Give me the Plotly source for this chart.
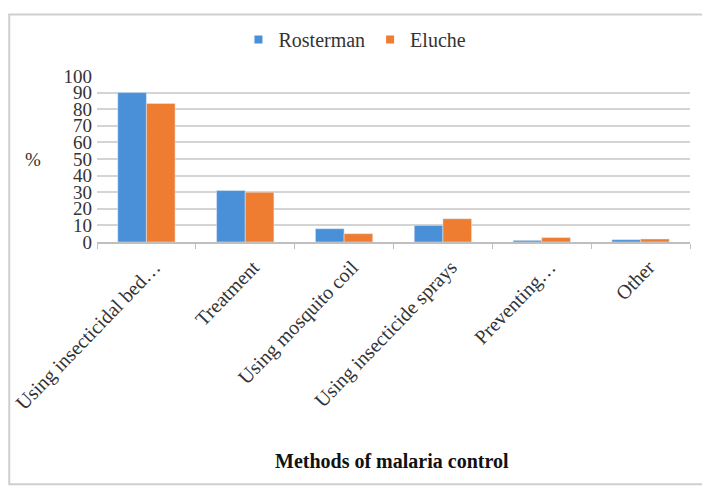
import plotly.graph_objects as go

categories = ["Using insecticidal bed…", "Treatment", "Using mosquito coil",
              "Using insecticide sprays", "Preventing…", "Other"]
rosterman = [90, 31, 8, 10, 1, 1.4]
eluche = [83.5, 30, 5, 14, 2.7, 1.8]
y_ticks = list(range(0, 101, 10))

series_names = ["Rosterman", "Eluche"]
series_colors = ["#4a90d9", "#ee7d31"]

font_family = "Liberation Serif, Times New Roman, serif"

fig = go.Figure()
for name, vals, col in zip(series_names, [rosterman, eluche], series_colors):
    fig.add_trace(go.Bar(name=name, x=categories, y=vals, marker_color=col,
                         showlegend=False))
    # legend proxy with a small square symbol
    fig.add_trace(go.Scatter(name=name, x=[None], y=[None], mode="markers",
                             marker=dict(symbol="square", size=8, color=col),
                             showlegend=True))

fig.update_layout(
    width=702, height=485,
    margin=dict(l=89, r=20, t=61, b=251),
    paper_bgcolor="white", plot_bgcolor="white",
    barmode="group", bargap=0.42, bargroupgap=0,
    font=dict(family=font_family, color="#333333"),
    showlegend=True,
    legend=dict(orientation="h", x=0.435, xanchor="center", y=1.22, yanchor="middle",
                font=dict(size=20, family=font_family, color="#333333"),
                itemwidth=30, traceorder="normal", tracegroupgap=0),
    xaxis=dict(tickangle=-46, tickfont=dict(size=20, family=font_family, color="#333333"),
               showline=True, linecolor="#bfbfbf", linewidth=1.5,
               ticks="outside", ticklen=5, tickcolor="#bfbfbf", tickson="boundaries",
               ticklabelshift=8, ticklabelstandoff=4,
               showgrid=False, automargin=False),
    yaxis=dict(range=[0, 100], tickvals=y_ticks, ticktext=[str(v) for v in y_ticks],
               tickfont=dict(size=19, family=font_family, color="#333333"),
               showgrid=True, gridcolor="#d4d4d4", gridwidth=2,
               zeroline=False, showline=False, ticks="", ticklabelstandoff=4,
               automargin=False),
    annotations=[
        dict(text="%", x=-0.125, y=0.5, xref="paper", yref="paper", showarrow=False,
             font=dict(size=19, family=font_family, color="#333333")),
        dict(text="<b>Methods of malaria control</b>", x=0.497, y=-1.32, xref="paper",
             yref="paper", showarrow=False, yanchor="middle",
             font=dict(size=20, family=font_family, color="#111111")),
    ],
    shapes=[dict(type="rect", xref="paper", yref="paper", x0=-0.148, x1=1.03,
                 y0=-1.46, y1=1.37, line=dict(color="#cfcfcf", width=2))],
)

fig.write_html("out.html")
